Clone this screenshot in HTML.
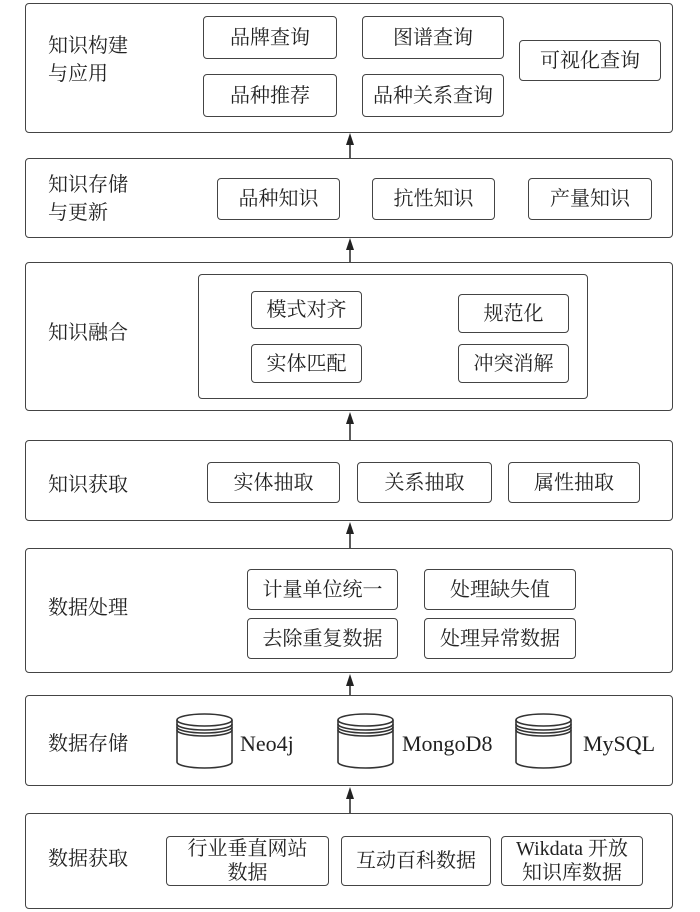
<!DOCTYPE html>
<html><head><meta charset="utf-8"><style>
body{margin:0;background:#fff;}
#c{position:relative;width:700px;height:912px;background:#fff;font-family:"Liberation Serif","Noto Serif CJK SC","Noto Sans CJK SC",serif;color:#222;}
.o{position:absolute;border:1.8px solid #444;border-radius:4px;box-sizing:border-box;}
.b{position:absolute;border:1.8px solid #444;border-radius:4px;box-sizing:border-box;display:flex;align-items:center;justify-content:center;font-size:20px;text-align:center;line-height:24px;white-space:nowrap;}
.l{position:absolute;font-size:20px;line-height:28px;}
svg{position:absolute;left:0;top:0;}
</style></head><body><div id="c">
<div class="o" style="left:25px;top:3px;width:648px;height:130px"></div>
<div class="l" style="left:48px;top:32px">知识构建<br>与应用</div>
<div class="b" style="left:203px;top:16px;width:134px;height:43px">品牌查询</div>
<div class="b" style="left:362px;top:16px;width:142px;height:43px">图谱查询</div>
<div class="b" style="left:203px;top:74px;width:134px;height:43px">品种推荐</div>
<div class="b" style="left:362px;top:74px;width:142px;height:43px">品种关系查询</div>
<div class="b" style="left:519px;top:40px;width:142px;height:41px">可视化查询</div>

<div class="o" style="left:25px;top:158px;width:648px;height:80px"></div>
<div class="l" style="left:48px;top:171px">知识存储<br>与更新</div>
<div class="b" style="left:217px;top:178px;width:123px;height:42px">品种知识</div>
<div class="b" style="left:372px;top:178px;width:123px;height:42px">抗性知识</div>
<div class="b" style="left:528px;top:178px;width:124px;height:42px">产量知识</div>

<div class="o" style="left:25px;top:262px;width:648px;height:149px"></div>
<div class="l" style="left:48px;top:319px">知识融合</div>
<div class="o" style="left:198px;top:274px;width:390px;height:125px"></div>
<div class="b" style="left:251px;top:291px;width:111px;height:38px">模式对齐</div>
<div class="b" style="left:251px;top:344px;width:111px;height:39px">实体匹配</div>
<div class="b" style="left:458px;top:294px;width:111px;height:39px">规范化</div>
<div class="b" style="left:458px;top:344px;width:111px;height:39px">冲突消解</div>

<div class="o" style="left:25px;top:440px;width:648px;height:81px"></div>
<div class="l" style="left:48px;top:471px">知识获取</div>
<div class="b" style="left:207px;top:462px;width:133px;height:41px">实体抽取</div>
<div class="b" style="left:357px;top:462px;width:135px;height:41px">关系抽取</div>
<div class="b" style="left:508px;top:462px;width:132px;height:41px">属性抽取</div>

<div class="o" style="left:25px;top:548px;width:648px;height:125px"></div>
<div class="l" style="left:48px;top:594px">数据处理</div>
<div class="b" style="left:247px;top:569px;width:151px;height:41px">计量单位统一</div>
<div class="b" style="left:424px;top:569px;width:152px;height:41px">处理缺失值</div>
<div class="b" style="left:247px;top:618px;width:151px;height:41px">去除重复数据</div>
<div class="b" style="left:424px;top:618px;width:152px;height:41px">处理异常数据</div>

<div class="o" style="left:25px;top:695px;width:648px;height:91px"></div>
<div class="l" style="left:48px;top:730px">数据存储</div>
<div class="l" style="left:240px;top:730px;font-size:22px">Neo4j</div>
<div class="l" style="left:402px;top:730px;font-size:22px">MongoD8</div>
<div class="l" style="left:583px;top:730px;font-size:22px">MySQL</div>

<div class="o" style="left:25px;top:813px;width:648px;height:96px"></div>
<div class="l" style="left:48px;top:845px">数据获取</div>
<div class="b" style="left:166px;top:836px;width:163px;height:50px;line-height:24px">行业垂直网站<br>数据</div>
<div class="b" style="left:341px;top:836px;width:150px;height:50px">互动百科数据</div>
<div class="b" style="left:501px;top:836px;width:142px;height:50px;line-height:24px">Wikdata 开放<br>知识库数据</div>

<svg width="700" height="912" viewBox="0 0 700 912">
<g stroke="#333" stroke-width="1.6" fill="none">
<line x1="350" y1="158" x2="350" y2="140"/>
<line x1="350" y1="262" x2="350" y2="245"/>
<line x1="350" y1="440" x2="350" y2="420"/>
<line x1="350" y1="548" x2="350" y2="530"/>
<line x1="350" y1="695" x2="350" y2="682"/>
<line x1="350" y1="813" x2="350" y2="795"/>
</g>
<g fill="#222">
<polygon points="346,145 350,133 354,145"/>
<polygon points="346,250 350,238 354,250"/>
<polygon points="346,424 350,412 354,424"/>
<polygon points="346,534 350,522 354,534"/>
<polygon points="346,686 350,674 354,686"/>
<polygon points="346,799 350,787 354,799"/>
</g>
<g stroke="#333" stroke-width="1.6" fill="#fff">
<g id="cy">
<path d="M177,720 L177,762 A27.5,6 0 0 0 232,762 L232,720"/>
<ellipse cx="204.5" cy="720" rx="27.5" ry="6"/>
<path d="M177,724 A27.5,6 0 0 0 232,724 M177,727 A27.5,6 0 0 0 232,727 M177,730 A27.5,6 0 0 0 232,730" fill="none"/>
</g>
<use href="#cy" x="161"/>
<use href="#cy" x="339"/>
</g>
</svg>
</div></body></html>
